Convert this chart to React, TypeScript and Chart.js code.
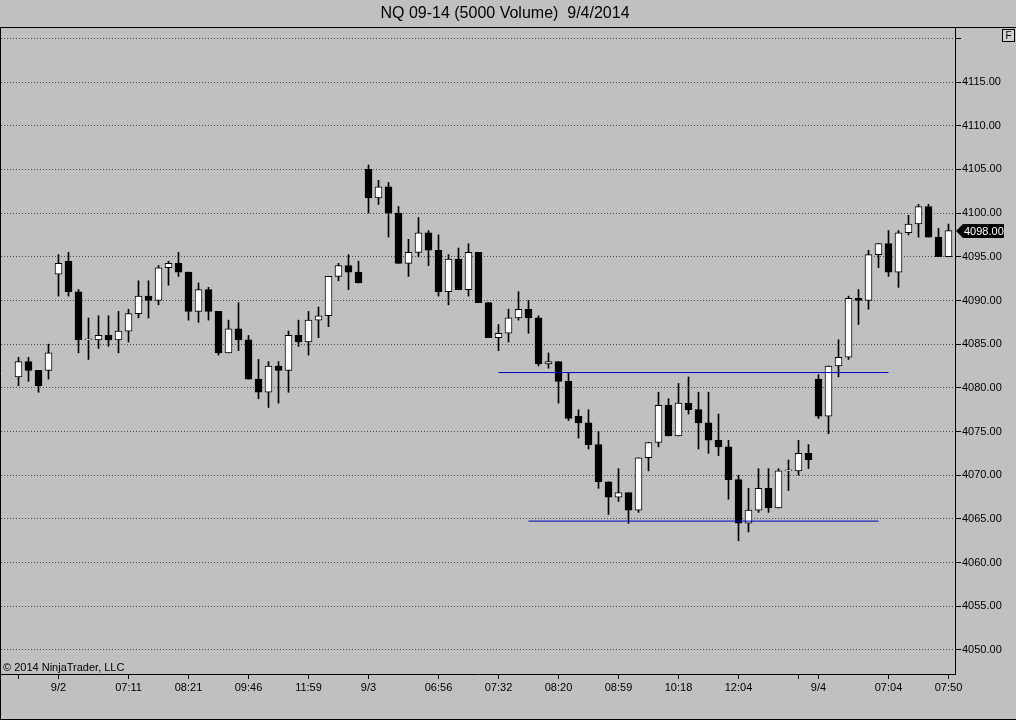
import React, { useEffect, useRef } from 'react';
import { Chart, registerables } from 'chart.js';

Chart.register(...registerables);

const FONT = '"Liberation Sans", Arial, sans-serif';
const BG = '#c0c0c0';

// OHLC từng nến (NQ 09-14, 5000 volume)
const opens = [
  4081.25, 4083.0, 4082.0, 4082.0, 4093.0, 4094.5, 4091.0, 4085.5, 4085.5, 4086.0,
  4085.5, 4086.5, 4088.5, 4090.5, 4090.0, 4093.75, 4094.25, 4093.25, 4088.75, 4091.25,
  4088.75, 4084.0, 4086.75, 4085.5, 4081.0, 4079.5, 4082.5, 4082.0, 4086.0, 4085.25,
  4087.75, 4088.25, 4092.75, 4094.0, 4093.25, 4105.0, 4101.75, 4103.0, 4100.0, 4094.25,
  4095.5, 4097.75, 4095.75, 4091.0, 4094.75, 4091.25, 4095.5, 4089.75, 4085.75, 4086.25,
  4088.0, 4089.0, 4088.0, 4082.75, 4083.0, 4080.75, 4076.75, 4076.0, 4073.5, 4069.25,
  4067.5, 4068.0, 4066.0, 4072.0, 4073.75, 4078.0, 4074.5, 4078.25, 4077.5, 4076.0,
  4074.0, 4073.25, 4069.5, 4064.5, 4066.0, 4068.5, 4066.25, 4070.5, 4070.5, 4072.5,
  4081.0, 4076.75, 4082.5, 4083.5, 4090.25, 4090.0, 4095.25, 4096.5, 4093.25, 4097.75,
  4098.75, 4100.75, 4097.25, 4095.0,
];
const highs = [
  4083.5, 4083.5, 4082.0, 4085.0, 4095.25, 4095.5, 4091.25, 4088.0, 4088.25, 4088.25,
  4088.75, 4089.0, 4092.25, 4092.25, 4094.0, 4094.5, 4095.5, 4093.25, 4092.0, 4091.5,
  4088.75, 4087.75, 4089.75, 4086.0, 4083.25, 4083.0, 4083.0, 4086.5, 4087.75, 4088.75,
  4089.25, 4092.75, 4094.25, 4095.25, 4094.5, 4105.5, 4103.75, 4103.5, 4100.75, 4097.0,
  4099.5, 4098.0, 4097.5, 4095.25, 4096.0, 4096.5, 4095.5, 4089.75, 4087.25, 4089.0,
  4091.0, 4090.0, 4088.25, 4084.0, 4083.0, 4081.75, 4077.5, 4077.5, 4075.0, 4069.25,
  4070.75, 4068.0, 4072.0, 4073.75, 4079.5, 4078.75, 4080.5, 4081.25, 4079.5, 4079.5,
  4077.0, 4074.0, 4070.0, 4068.5, 4070.75, 4070.75, 4070.75, 4071.75, 4074.0, 4073.5,
  4081.5, 4082.5, 4085.5, 4090.5, 4091.25, 4095.75, 4096.5, 4098.0, 4098.0, 4099.75,
  4101.0, 4101.0, 4098.25, 4098.75,
];
const lows = [
  4080.25, 4080.75, 4079.5, 4081.0, 4090.5, 4090.5, 4084.0, 4083.25, 4084.5, 4084.75,
  4084.0, 4085.25, 4088.0, 4088.0, 4089.5, 4091.75, 4092.75, 4087.75, 4087.5, 4087.75,
  4083.75, 4084.0, 4084.25, 4081.0, 4078.75, 4077.75, 4078.25, 4079.5, 4084.75, 4083.75,
  4085.75, 4087.0, 4092.25, 4091.25, 4092.0, 4100.0, 4101.0, 4097.25, 4094.25, 4092.75,
  4095.0, 4094.0, 4090.5, 4089.5, 4091.25, 4090.5, 4089.75, 4085.75, 4084.25, 4085.25,
  4087.75, 4086.25, 4082.5, 4082.25, 4078.25, 4076.25, 4074.25, 4073.0, 4068.5, 4065.5,
  4067.0, 4064.5, 4065.75, 4070.5, 4073.25, 4074.5, 4074.5, 4077.0, 4073.0, 4072.5,
  4072.25, 4067.25, 4062.5, 4063.5, 4065.75, 4065.75, 4066.25, 4068.25, 4070.0, 4070.75,
  4076.5, 4074.75, 4081.25, 4083.25, 4087.25, 4089.0, 4093.75, 4092.75, 4091.5, 4097.5,
  4097.25, 4097.25, 4095.0, 4095.0,
];
const closes = [
  4083.0, 4082.0, 4080.25, 4084.0, 4094.25, 4091.0, 4085.5, 4085.5, 4086.0, 4085.5,
  4086.5, 4088.5, 4090.5, 4090.0, 4093.75, 4094.25, 4093.25, 4088.75, 4091.25, 4088.75,
  4084.0, 4086.75, 4085.5, 4081.0, 4079.5, 4082.5, 4082.0, 4086.0, 4085.25, 4087.75,
  4088.25, 4092.75, 4094.0, 4093.25, 4092.0, 4101.75, 4103.0, 4100.0, 4094.25, 4095.5,
  4097.75, 4095.75, 4091.0, 4094.75, 4091.25, 4095.5, 4089.75, 4085.75, 4086.25, 4088.0,
  4089.0, 4088.0, 4082.75, 4083.0, 4080.75, 4076.5, 4076.0, 4073.5, 4069.25, 4067.5,
  4068.0, 4066.0, 4072.0, 4073.75, 4078.0, 4074.5, 4078.25, 4077.5, 4076.0, 4074.0,
  4073.25, 4069.5, 4064.5, 4066.0, 4068.5, 4066.25, 4070.5, 4070.5, 4072.5, 4071.75,
  4076.75, 4082.5, 4083.5, 4090.25, 4090.0, 4095.25, 4096.5, 4093.25, 4097.75, 4098.75,
  4100.75, 4097.25, 4095.0, 4098.0,
];

// Nhãn trục thời gian (theo chỉ số nến)
const timeTickIndex = [0, 4, 11, 17, 23, 29, 35, 42, 48, 54, 60, 66, 72, 78, 80, 87, 93];
const timeTickLabels = ['', '9/2', '07:11', '08:21', '09:46', '11:59', '9/3', '06:56', '07:32', '08:20', '08:59', '10:18', '12:04', '', '9/4', '07:04', '07:50'];

const priceTicks = [4050, 4055, 4060, 4065, 4070, 4075, 4080, 4085, 4090, 4095, 4100, 4105, 4110, 4115, 4120];

// Hai đường ngang màu xanh (kháng cự / hỗ trợ)
const upperLevel = 4081.75;
const upperFrom = 48;
const upperTo = 87;
const lowerLevel = 4064.75;
const lowerFrom = 51;
const lowerTo = 86;

const isUp = (i: number) => closes[i] >= opens[i];

const decorPlugin = {
  id: 'ntDecor',
  beforeDraw(chart: any) {
    const { ctx, width, height } = chart;
    ctx.save();
    ctx.fillStyle = BG;
    ctx.fillRect(0, 0, width, height);
    ctx.restore();
  },
  afterDraw(chart: any) {
    const { ctx, width, height, chartArea, scales } = chart;
    ctx.save();

    // khung ngoài
    ctx.strokeStyle = '#000';
    ctx.lineWidth = 1;
    ctx.beginPath();
    ctx.moveTo(0, chartArea.top + 0.5);
    ctx.lineTo(width, chartArea.top + 0.5);
    ctx.moveTo(0.5, chartArea.top);
    ctx.lineTo(0.5, height);
    ctx.moveTo(0, height - 0.5);
    ctx.lineTo(width, height - 0.5);
    ctx.stroke();

    // tiêu đề
    ctx.fillStyle = '#000';
    ctx.font = `16px ${FONT}`;
    ctx.textAlign = 'center';
    ctx.textBaseline = 'middle';
    ctx.fillText('NQ 09-14 (5000 Volume)  9/4/2014', 505, 13.5);

    // bản quyền
    ctx.font = `11px ${FONT}`;
    ctx.textAlign = 'left';
    ctx.fillText('\u00A9 2014 NinjaTrader, LLC', 3, 668);

    // nút F
    ctx.fillStyle = '#d0d0d0';
    ctx.fillRect(1002, 29, 13, 13);
    ctx.strokeRect(1002.5, 29.5, 12, 12);
    ctx.fillStyle = '#000';
    ctx.font = `10px ${FONT}`;
    ctx.textAlign = 'center';
    ctx.fillText('F', 1008.5, 36);

    // nhãn giá cuối
    const last = closes[closes.length - 1];
    const y = Math.round(scales.y.getPixelForValue(last));
    const x0 = chartArea.right + 1;
    ctx.fillStyle = '#000';
    ctx.beginPath();
    ctx.moveTo(x0, y);
    ctx.lineTo(x0 + 7, y - 7);
    ctx.lineTo(1004, y - 7);
    ctx.lineTo(1004, y + 7);
    ctx.lineTo(x0 + 7, y + 7);
    ctx.closePath();
    ctx.fill();
    ctx.fillStyle = '#fff';
    ctx.font = `11px ${FONT}`;
    ctx.textAlign = 'left';
    ctx.fillText(last.toFixed(2), x0 + 8, y + 0.5);

    ctx.restore();
  },
};

const CandleChart: React.FC = () => {
  const canvasRef = useRef<HTMLCanvasElement>(null);
  const chartRef = useRef<Chart | null>(null);

  useEffect(() => {
    document.body.style.margin = '0';
    if (!canvasRef.current) return;
    chartRef.current?.destroy();

    const idx = opens.map((_, i) => i);

    chartRef.current = new Chart(canvasRef.current, {
      type: 'bar',
      data: {
        datasets: [
          {
            type: 'line',
            data: [
              { x: upperFrom, y: upperLevel },
              { x: upperTo, y: upperLevel },
            ],
            borderColor: '#0000c0',
            borderWidth: 1,
            pointRadius: 0,
            order: 0,
          },
          {
            type: 'line',
            data: [
              { x: lowerFrom, y: lowerLevel },
              { x: lowerTo, y: lowerLevel },
            ],
            borderColor: '#0000c0',
            borderWidth: 1,
            pointRadius: 0,
            order: 0,
          },
          {
            // thân nến
            data: idx.map((i) => ({ x: i, y: [opens[i], closes[i]] })) as any,
            grouped: false,
            barThickness: 7,
            maxBarThickness: 7,
            minBarLength: 1,
            borderWidth: 1,
            borderSkipped: false,
            borderColor: '#000',
            backgroundColor: (c: any) => (isUp(c.dataIndex) ? '#fff' : '#000'),
            order: 1,
          },
          {
            // râu nến
            data: idx.map((i) => ({ x: i, y: [lows[i], highs[i]] })) as any,
            grouped: false,
            barThickness: 1,
            maxBarThickness: 1,
            borderWidth: 0,
            backgroundColor: '#000',
            order: 2,
          },
        ] as any,
      },
      options: {
        animation: false,
        responsive: true,
        maintainAspectRatio: false,
        layout: { padding: { top: 27, left: 1, right: 0, bottom: 0 } },
        plugins: {
          legend: { display: false },
          tooltip: { enabled: false },
          title: { display: false },
        },
        scales: {
          x: {
            type: 'linear',
            min: -1.75,
            max: 93.65,
            offset: false,
            afterFit: (s: any) => {
              s.height = 46;
            },
            afterBuildTicks: (s: any) => {
              s.ticks = timeTickIndex.map((v) => ({ value: v }));
            },
            ticks: {
              autoSkip: false,
              maxRotation: 0,
              padding: 2,
              color: '#000',
              font: { family: FONT, size: 11 },
              callback: (v: any) => {
                const k = timeTickIndex.indexOf(Number(v));
                return k >= 0 ? timeTickLabels[k] : '';
              },
            },
            grid: {
              offset: false,
              drawOnChartArea: false,
              drawTicks: true,
              tickLength: 5,
              tickColor: '#000',
            },
            border: { color: '#000', width: 1 },
          },
          y: {
            position: 'right',
            min: 4047.25,
            max: 4121.3,
            afterFit: (s: any) => {
              s.width = 61;
            },
            afterBuildTicks: (s: any) => {
              s.ticks = priceTicks.map((v) => ({ value: v }));
            },
            ticks: {
              padding: 1,
              color: '#000',
              font: { family: FONT, size: 11 },
              callback: (v: any) => (Number(v) === 4120 ? '' : Number(v).toFixed(2)),
            },
            grid: {
              color: '#4a4a4a',
              lineWidth: 1,
              drawTicks: true,
              tickLength: 6,
              tickColor: '#000',
            },
            border: { color: '#000', width: 1, dash: [1, 2] },
          },
        },
      },
      plugins: [decorPlugin],
    });

    return () => {
      chartRef.current?.destroy();
      chartRef.current = null;
    };
  }, []);

  return (
    <div style={{ position: 'fixed', left: 0, top: 0, width: 1016, height: 720, background: BG }}>
      <canvas ref={canvasRef} />
    </div>
  );
};

export default function App() {
  return <CandleChart />;
}
